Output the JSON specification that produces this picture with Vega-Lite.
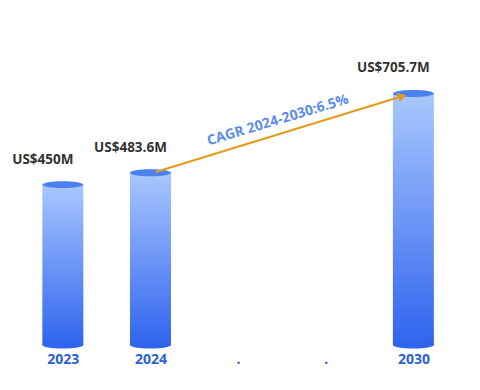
{
  "$schema": "https://vega.github.io/schema/vega-lite/v6.json",
  "width": 480,
  "height": 345,
  "autosize": "none",
  "padding": {"left": 0, "top": 0, "right": 0, "bottom": 45},
  "background": "white",
  "config": {"view": {"stroke": null}, "font": "Open Sans"},
  "data": {"values": [
    {"year": "2023", "pos": 0, "value": 450, "label": "US$450M"},
    {"year": "2024", "pos": 1, "value": 483.6, "label": "US$483.6M"},
    {"year": "2030", "pos": 4, "value": 705.7, "label": "US$705.7M"}
  ]},
  "encoding": {
    "x": {"field": "pos", "type": "quantitative", "scale": {"domain": [-0.66, 4.703], "nice": false, "zero": false},
      "axis": {"values": [0, 1, 2, 3, 4], "title": null, "domain": false, "ticks": false, "grid": false, "labelPadding": 7,
        "labelExpr": "datum.value == 0 ? '2023' : datum.value == 1 ? '2024' : datum.value == 4 ? '2030' : '.'",
        "labelFont": "Open Sans", "labelFontWeight": "bold", "labelFontSize": 14, "labelColor": "#2a60d8", "labelFlush": false}},
    "y": {"field": "value", "type": "quantitative", "scale": {"domain": [0, 968], "nice": false}, "axis": null}
  },
  "layer": [
    {"mark": {"type": "bar", "size": 41, "color": {"gradient": "linear", "x1": 0, "y1": 0, "x2": 0, "y2": 1,
      "stops": [{"offset": 0, "color": "#a9c7fe"}, {"offset": 1, "color": "#3064ee"}]}}},
    {"mark": {"type": "point", "filled": true, "opacity": 1, "size": 1681, "color": "#3064ee",
      "shape": "M -1 0 A 1 0.17 0 1 0 1 0 A 1 0.17 0 1 0 -1 0 Z"},
      "encoding": {"y": {"datum": 0, "type": "quantitative"}}},
    {"mark": {"type": "point", "filled": true, "opacity": 1, "size": 1681, "color": "#4a80ef",
      "shape": "M -1 0 A 1 0.17 0 1 0 1 0 A 1 0.17 0 1 0 -1 0 Z"}},
    {"data": {"values": [{"pos": 1.06, "value": 485.4}, {"pos": 3.9, "value": 700}]},
      "mark": {"type": "line", "color": "#e39b17", "strokeWidth": 2}},
    {"data": {"values": [{"pos": 3.875, "value": 697.6}]},
      "mark": {"type": "point", "shape": "triangle-right", "filled": true, "opacity": 1, "color": "#e39b17", "size": 90, "angle": 343.3}},
    {"mark": {"type": "text", "font": "Open Sans", "fontWeight": "bold", "fontSize": 13.5, "color": "#333333", "dx": -20, "dy": -25, "baseline": "middle", "align": "center"},
      "encoding": {"text": {"field": "label"}}},
    {"data": {"values": [{"pos": 2.453, "value": 630, "text": "CAGR 2024-2030:6.5%"}]},
      "mark": {"type": "text", "font": "Open Sans", "fontWeight": "bold", "fontSize": 14, "color": "#5a8de6", "angle": 343.3, "baseline": "middle", "align": "center"},
      "encoding": {"text": {"field": "text"}}}
  ]
}
